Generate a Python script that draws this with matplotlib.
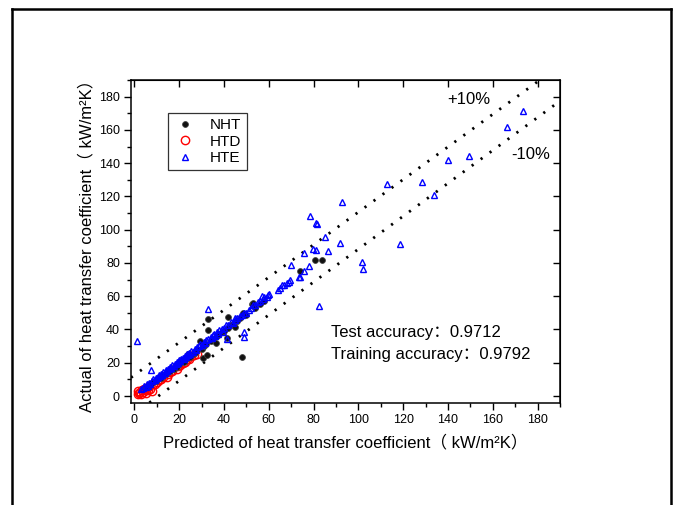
import numpy as np
import matplotlib
matplotlib.use("Agg")
import matplotlib.pyplot as plt
from matplotlib.ticker import MultipleLocator
from matplotlib.lines import Line2D

plt.rcParams['font.family'] = ['Liberation Sans', 'Noto Sans CJK SC', 'DejaVu Sans']

# NHT (black balls)
nht_x = [5, 7, 8, 9.5, 10.5, 12, 13, 14, 15, 16, 17.5, 18, 19, 20, 21, 22, 23, 24, 25, 26,
         27, 28, 29.3, 30, 30.5, 31, 32, 32.5, 32.7, 33, 34, 35, 36.3, 37, 38, 39, 40, 41.2,
         41.6, 42, 43, 44, 44.9, 46, 47.1, 48.1, 48.6, 50, 52.3, 53, 54, 56, 58, 73.8, 80.8, 83.6]
nht_y = [5.5, 6.5, 8, 9, 10, 11, 12.5, 13, 14.5, 15, 16.5, 18, 17.5, 19, 21.5, 20.5, 22, 25, 23.5, 25,
         26, 27.5, 33.1, 28.5, 23.0, 30, 31, 24.7, 46.4, 39.7, 33, 34.5, 31.7, 36, 37, 38.5, 39, 35.1,
         47.4, 41, 42.5, 43, 41.4, 45, 46.8, 23.7, 49.8, 49, 55.4, 55.8, 53, 55.5, 57, 75.4, 81.9, 81.5]

# HTD (red open circles)
htd_x = [1.5, 1.8, 2.2, 2.5, 3.1, 3.5, 4.0, 4.5, 5.0, 5.5, 6.0, 6.5, 7.0, 8.0, 8.2, 9.0, 10.0,
         11.0, 12.0, 13.0, 14.4, 15.0, 16.0, 17.0, 18.9, 19.5, 20.5, 21.5, 22.5, 23.5, 24.5,
         25.5, 26.5, 27.8]
htd_y = [1.5, 3.0, 1.6, 2.5, 1.5, 3.5, 2.5, 4.5, 2.0, 5.0, 3.5, 6.0, 4.5, 3.2, 7.0, 7.5, 8.5,
         9.5, 10.0, 11.5, 11.4, 13.0, 14.5, 15.0, 16.3, 18.0, 18.5, 20.0, 20.5, 22.0, 22.5,
         24.0, 24.5, 25.2]

# HTE (blue open triangles)
hte_x = [1.1, 3.0, 4.0, 4.5, 5.0, 5.5, 6.0, 6.5, 7.0, 7.5, 7.7, 8.0, 8.5, 9.0, 9.5, 10.0,
         10.5, 11.0, 11.5, 12.0, 12.5, 13.0, 13.5, 14.0, 14.5, 15.0, 15.5, 16.0, 16.5, 17.0,
         17.5, 18.0, 18.5, 19.0, 19.5, 20.0, 20.5, 21.0, 21.5, 22.0, 22.5, 23.0, 23.5, 24.0,
         24.5, 25.0, 25.5, 26.0, 27.0, 27.5, 28.0, 29.0, 29.5, 30.0, 31.0, 31.5, 32.0, 32.7,
         33.0, 34.0, 34.5, 35.0, 35.5, 36.0, 37.0, 37.5, 38.0, 39.0, 39.5, 40.0, 41.0, 41.3,
         42.0, 43.0, 44.0, 44.9, 45.0, 46.0, 47.0, 48.0, 48.9, 48.9, 49.0, 50.0, 51.0, 52.0,
         53.0, 54.0, 55.0, 56.0, 57.0, 57.5, 58.0, 59.0, 59.7, 60.0, 64.0, 65.0, 66.0, 67.0,
         68.0, 68.9, 69.5, 69.7, 73.4, 73.8, 75.6, 75.9, 78.0, 78.6, 79.8, 81.0, 81.0, 81.5,
         82.4, 85.3, 86.3, 92.0, 92.9, 101.5, 102.2, 112.7, 118.7, 128.4, 133.6, 140.2, 149.5,
         166.4, 173.4]
hte_y = [33.1, 4.0, 4.6, 5.8, 5.5, 7.0, 6.2, 8.0, 7.5, 15.7, 9.0, 8.8, 10.0, 9.5, 11.0, 10.8,
         11.5, 12.5, 12.0, 13.5, 12.8, 14.5, 14.0, 15.5, 15.0, 16.5, 16.0, 17.5, 17.0, 18.5,
         18.0, 19.5, 19.0, 20.5, 19.8, 21.5, 21.0, 22.0, 23.0, 22.5, 24.0, 23.5, 25.0, 24.5,
         26.0, 25.5, 27.0, 26.5, 28.5, 27.8, 29.5, 30.0, 31.0, 30.5, 32.5, 31.8, 33.5, 52.4,
         34.0, 35.5, 34.8, 36.5, 37.5, 36.0, 38.5, 37.5, 39.5, 40.0, 38.5, 41.0, 42.5, 34.1,
         42.5, 44.5, 44.0, 46.8, 45.5, 47.0, 48.0, 48.5, 38.7, 35.3, 50.0, 50.2, 52.0, 53.0,
         54.5, 54.8, 56.5, 57.0, 60.4, 58.5, 59.5, 59.8, 60.8, 61.5, 64.0, 64.8, 66.5, 67.0,
         67.8, 68.6, 69.8, 78.9, 71.5, 71.8, 75.4, 85.9, 78.3, 108.2, 88.5, 104.0, 87.7, 103.7,
         54.2, 95.9, 87.3, 91.7, 116.8, 80.7, 76.5, 127.4, 91.3, 128.4, 120.6, 141.7, 144.5,
         162.0, 171.6]

# +10% / -10% guide lines (end points)
plus_line_x = [-1.5, 181.0]
plus_line_y = [11.1, 190.0]
minus_line_x = [6.7, 190.0]
minus_line_y = [-4.0, 177.4]

test_acc = 0.9712
train_acc = 0.9792

ticks = np.arange(0, 181, 20)

fig = plt.figure(figsize=(6.74, 5.05), dpi=100)
ax = fig.add_axes([131 / 674, 102 / 505, 429 / 674, 323 / 505])

dot = (0, (0.8, 3.2))
ax.plot(plus_line_x, plus_line_y, color='black', lw=2.0, linestyle=dot, zorder=1)
ax.plot(minus_line_x, minus_line_y, color='black', lw=2.0, linestyle=dot, zorder=1)

h1, = ax.plot(nht_x, nht_y, 'o', ms=4.2, mfc='#111111', mec='#444444', mew=0.6,
              label='NHT', zorder=3)
h2, = ax.plot(htd_x, htd_y, 'o', ms=6, mfc='none', mec='red', mew=1.0,
              label='HTD', zorder=2)
h3, = ax.plot(hte_x, hte_y, '^', ms=5, mfc='none', mec='blue', mew=1.0,
              label='HTE', zorder=4)

ax.set_xlim(-1.5, 190)
ax.set_ylim(-4.2, 190)
ax.set_xticks(ticks)
ax.set_yticks(ticks)
ax.xaxis.set_minor_locator(MultipleLocator(10))
ax.yaxis.set_minor_locator(MultipleLocator(10))
ax.tick_params(which='major', direction='out', length=5, width=1, labelsize=9, pad=3)
ax.tick_params(which='minor', direction='out', length=3, width=1)
for s in ax.spines.values():
    s.set_linewidth(1.1)

top = ax.secondary_xaxis('top')
top.set_xticks(ticks)
top.tick_params(direction='in', length=5, width=1, labeltop=False)
right = ax.secondary_yaxis('right')
right.set_yticks(ticks)
right.tick_params(direction='in', length=5, width=1, labelright=False)

ax.set_xlabel('Predicted of heat transfer coefficient（ kW/m²K）', fontsize=12, labelpad=6)
ax.set_ylabel('Actual of heat transfer coefficient（ kW/m²K）', fontsize=12, labelpad=3)

ax.text(139.8, 178, '+10%', fontsize=12, va='center')
ax.text(168.2, 145, '-10%', fontsize=12, va='center')
ax.text(88, 38, 'Test accuracy：' + str(test_acc), fontsize=12, va='center')
ax.text(88, 25, 'Training accuracy：' + str(train_acc), fontsize=12, va='center')

leg = ax.legend(handles=[h1, h2, h3], loc='upper left', bbox_to_anchor=(0.086, 0.898),
                frameon=True, fancybox=False, edgecolor='black', fontsize=11,
                handlelength=1.6, handletextpad=0.8, borderpad=0.35, labelspacing=0.15,
                borderaxespad=0)
leg.get_frame().set_linewidth(0.9)

# outer frame (no bottom edge)
fig.add_artist(Line2D([12 / 674, 12 / 674], [0, 1 - 9 / 505], color='black', lw=1.8))
fig.add_artist(Line2D([12 / 674, 671 / 674], [1 - 9 / 505, 1 - 9 / 505], color='black', lw=1.8))
fig.add_artist(Line2D([671 / 674, 671 / 674], [0, 1 - 9 / 505], color='black', lw=1.8))

fig.savefig('out.png', dpi=100)
